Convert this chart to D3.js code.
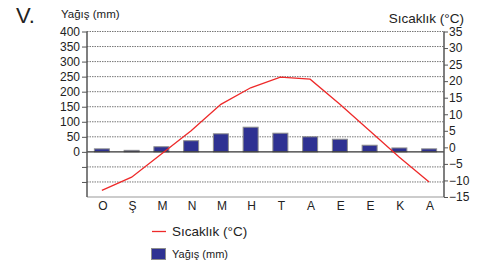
<!DOCTYPE html>
<html><head><meta charset="utf-8">
<script src="https://cdn.jsdelivr.net/npm/d3@7"></script>
<style>body{margin:0;background:#fff}svg{display:block;font-family:"Liberation Sans",Arial,sans-serif}</style>
</head><body>
<svg id="c" width="480" height="265"></svg>
<script>
const months = ["O","Ş","M","N","M","H","T","A","E","E","K","A"];
const precipitation = [10,5,17,37,60,82,62,50,42,22,13,10];
const temperature = [-13,-9,-2,5,13,18,21.2,20.6,13,5,-3,-10.5];
const leftTicks = [400,350,300,250,200,150,100,50,0,-50,-100];
const rightTicks = [35,30,25,20,15,10,5,0,-5,-10,-15];

const svg = d3.select("#c");
const x0 = 87, x1 = 444, yTop = 31.5, yBot = 197;
const x = d3.scaleBand().domain(d3.range(months.length)).range([x0, x1]);
const yL = d3.scaleLinear().domain([-150, 400]).range([yBot, yTop]);
const yR = d3.scaleLinear().domain([-15, 35]).range([yBot, yTop]);

// grid
svg.append("g").selectAll("line").data(leftTicks.filter(d => d !== 0)).join("line")
  .attr("x1", x0).attr("x2", x1).attr("y1", d => yL(d)).attr("y2", d => yL(d))
  .attr("stroke", "#777").attr("stroke-width", 1).attr("stroke-dasharray", "1.5,1");

// bars
svg.append("g").selectAll("rect").data(precipitation).join("rect")
  .attr("x", (d, i) => x(i) + x.bandwidth() / 2 - 7.5)
  .attr("width", 15)
  .attr("y", d => yL(d))
  .attr("height", d => yL(0) - yL(d))
  .attr("fill", "#2e3192").attr("stroke", "#8c8c8c").attr("stroke-width", 1);

// zero line
svg.append("line").attr("x1", x0).attr("x2", x1).attr("y1", yL(0)).attr("y2", yL(0))
  .attr("stroke", "#333").attr("stroke-width", 1.2);
// bottom line
svg.append("line").attr("x1", x0).attr("x2", x1).attr("y1", yBot).attr("y2", yBot)
  .attr("stroke", "#999").attr("stroke-width", 1);

// temperature line
svg.append("path").datum(temperature)
  .attr("d", d3.line().x((d, i) => x(i) + x.bandwidth() / 2).y(d => yR(d)))
  .attr("fill", "none").attr("stroke", "#ee2a2a").attr("stroke-width", 1.3);

// left axis
const gL = svg.append("g").attr("transform", `translate(${x0},0)`)
  .call(d3.axisLeft(yL).tickValues(leftTicks).tickSize(5).tickPadding(2)
    .tickFormat(d => d >= 0 ? d : ""));
gL.select(".domain").attr("stroke", "#555").attr("stroke-width", 1.5).attr("d", `M-0,${yTop}V${yBot}`);
gL.selectAll(".tick line").attr("stroke", "#555");
gL.selectAll("text").attr("font-size", 12).attr("fill", "#222").attr("font-family", "Liberation Sans, Arial, sans-serif");

// right axis
const gR = svg.append("g").attr("transform", `translate(${x1},0)`)
  .call(d3.axisRight(yR).tickValues(rightTicks).tickSize(4).tickPadding(1)
    .tickFormat(d => d < 0 ? "\u2212" + Math.abs(d) : d));
gR.select(".domain").attr("stroke", "#555").attr("stroke-width", 1.5).attr("d", `M0,${yTop}V${yBot}`);
gR.selectAll(".tick line").attr("stroke", "#555");
gR.selectAll("text").attr("font-size", 12).attr("fill", "#222").attr("font-family", "Liberation Sans, Arial, sans-serif");

// x labels
svg.append("g").selectAll("text").data(months).join("text")
  .attr("x", (d, i) => x(i) + x.bandwidth() / 2 + 1).attr("y", 209.5)
  .attr("text-anchor", "middle").attr("font-size", 12).attr("fill", "#222").text(d => d);

// titles
svg.append("text").attr("x", 16).attr("y", 23).attr("font-size", 22).attr("fill", "#222").text("V.");
svg.append("text").attr("x", 61).attr("y", 18).attr("font-size", 11.5).attr("fill", "#222").text("Yağış (mm)");
svg.append("text").attr("x", 464).attr("y", 22.5).attr("text-anchor", "end").attr("font-size", 13.5).attr("fill", "#222").text("Sıcaklık (°C)");

// legend
svg.append("line").attr("x1", 152).attr("x2", 166).attr("y1", 231.5).attr("y2", 231.5)
  .attr("stroke", "#ee2a2a").attr("stroke-width", 1.3);
svg.append("text").attr("x", 172).attr("y", 236).attr("font-size", 13.5).attr("fill", "#222").text("Sıcaklık (°C)");
svg.append("rect").attr("x", 151.5).attr("y", 248.5).attr("width", 14).attr("height", 11)
  .attr("fill", "#2e3192").attr("stroke", "#8c8c8c").attr("stroke-width", 1);
svg.append("text").attr("x", 172).attr("y", 258).attr("font-size", 11).attr("fill", "#222").text("Yağış (mm)");
</script>
</body></html>
